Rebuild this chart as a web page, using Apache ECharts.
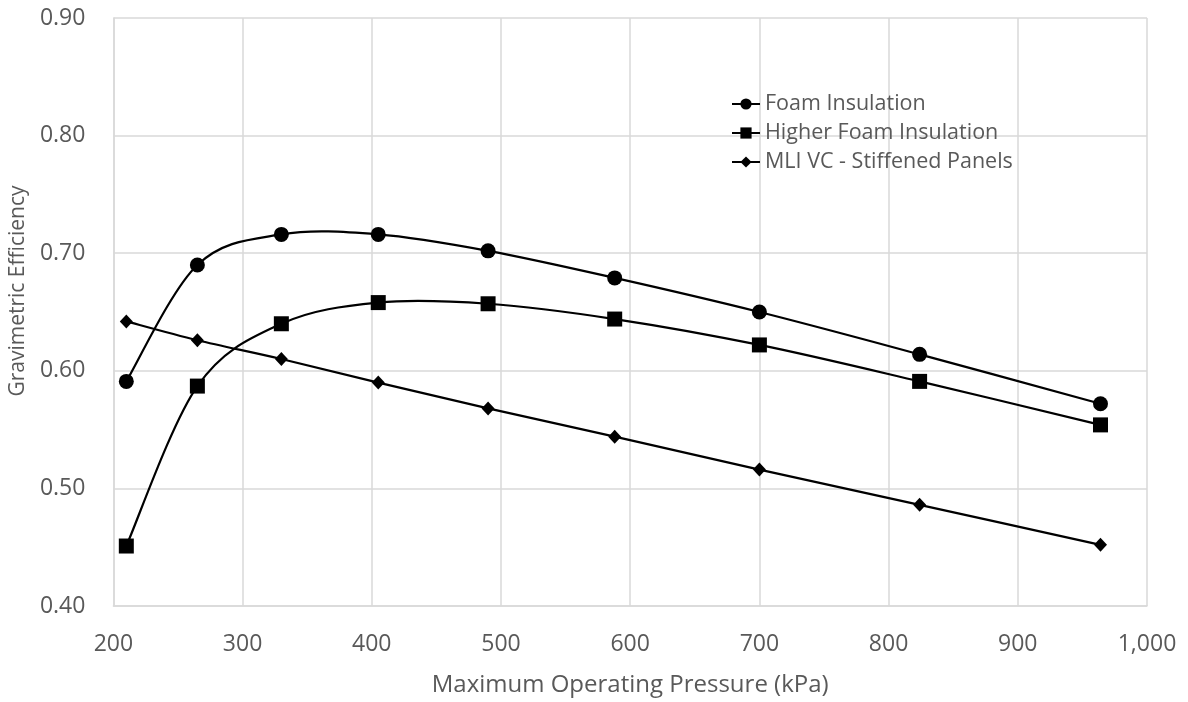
<!DOCTYPE html>
<html>
<head>
<meta charset="utf-8">
<script src="https://cdn.jsdelivr.net/npm/echarts@6/dist/echarts.min.js"></script>
<style>
html,body{margin:0;padding:0;background:#fff;}
#chart{width:1188px;height:702px;}
</style>
</head>
<body>
<div id="chart"></div>
<script>
var pressure = [210, 265, 330, 405, 490, 588, 700, 824, 964];
var foamInsulation = [0.591, 0.690, 0.716, 0.716, 0.702, 0.679, 0.650, 0.614, 0.572];
var higherFoamInsulation = [0.451, 0.587, 0.640, 0.658, 0.657, 0.644, 0.622, 0.591, 0.554];
var mliStiffened = [0.642, 0.626, 0.610, 0.590, 0.568, 0.544, 0.516, 0.486, 0.452];
var seriesNames = ['Foam Insulation', 'Higher Foam Insulation', 'MLI VC - Stiffened Panels'];
var seriesSymbols = ['circle', 'rect', 'diamond'];
var xAxisTitle = 'Maximum Operating Pressure (kPa)';
var yAxisTitle = 'Gravimetric Efficiency';

function pairs(xs, ys) { return xs.map(function (x, i) { return [x, ys[i]]; }); }

var FONT = '"Open Sans", "Noto Sans", sans-serif';
var TXT = '#595959';
var GRID = '#d9d9d9';

// Smoothed (Catmull-Rom style, like the spreadsheet's smoothed line) path drawn
// through the points after converting them with the chart's own axes.
function smoothRender(xs, ys) {
  return function (params, api) {
    if (params.dataIndex !== 0) return null;
    var p = xs.map(function (x, i) { return api.coord([x, ys[i]]); });
    var n = p.length;
    var d = 'M' + p[0][0] + ',' + p[0][1];
    for (var i = 0; i < n - 1; i++) {
      var p0 = p[Math.max(i - 1, 0)], p1 = p[i], p2 = p[i + 1], p3 = p[Math.min(i + 2, n - 1)];
      var c1x = p1[0] + (p2[0] - p0[0]) / 6, c1y = p1[1] + (p2[1] - p0[1]) / 6;
      var c2x = p2[0] - (p3[0] - p1[0]) / 6, c2y = p2[1] - (p3[1] - p1[1]) / 6;
      d += ' C' + c1x + ',' + c1y + ' ' + c2x + ',' + c2y + ' ' + p2[0] + ',' + p2[1];
    }
    return {
      type: 'path',
      shape: { pathData: d },
      style: { fill: 'none', stroke: '#000', lineWidth: 2.2 }
    };
  };
}

var allY = [foamInsulation, higherFoamInsulation, mliStiffened];
var series = [];
allY.forEach(function (ys, k) {
  series.push({
    type: 'custom',
    coordinateSystem: 'cartesian2d',
    renderItem: smoothRender(pressure, ys),
    data: pairs(pressure, ys),
    encode: { x: 0, y: 1 },
    clip: false,
    silent: true,
    z: 1
  });
});
allY.forEach(function (ys, k) {
  series.push({
    name: seriesNames[k],
    type: 'line',
    data: pairs(pressure, ys),
    symbol: seriesSymbols[k],
    symbolSize: k === 2 ? [13, 14] : 15,
    showSymbol: true,
    itemStyle: { color: '#000' },
    lineStyle: { color: '#000', width: 2, opacity: 0 },
    z: 3
  });
});

var chart = echarts.init(document.getElementById('chart'));
var option = {
  animation: false,
  backgroundColor: '#fff',
  grid: { left: 111, right: 41, top: 18, bottom: 94 },
  legend: {
    orient: 'vertical',
    left: 726,
    top: 88,
    itemWidth: 28,
    itemHeight: 14,
    itemGap: 7,
    textStyle: { fontFamily: FONT, fontSize: 21.5, color: TXT },
    data: seriesNames.map(function (nm) {
      return { name: nm, lineStyle: { color: '#000', width: 2, opacity: 1 } };
    })
  },
  xAxis: {
    type: 'value',
    min: 200, max: 1000, interval: 100,
    name: xAxisTitle,
    nameLocation: 'middle',
    nameGap: 67,
    nameTextStyle: { fontFamily: FONT, fontSize: 24, color: TXT },
    axisLine: { show: true, lineStyle: { color: GRID, width: 1.5 } },
    axisTick: { show: false },
    splitLine: { show: true, lineStyle: { color: GRID, width: 1.5 } },
    axisLabel: {
      fontFamily: FONT, fontSize: 23, color: TXT, margin: 27,
      formatter: function (v) { return v.toLocaleString('en-US'); }
    }
  },
  yAxis: {
    type: 'value',
    min: 0.4, max: 0.9, interval: 0.1,
    name: yAxisTitle,
    nameLocation: 'middle',
    nameGap: 74,
    nameTextStyle: { fontFamily: FONT, fontSize: 21, color: TXT, padding: [0, 0, 0, 42] },
    axisLine: { show: true, lineStyle: { color: GRID, width: 1.5 } },
    axisTick: { show: false },
    splitLine: { show: true, lineStyle: { color: GRID, width: 1.5 } },
    axisLabel: {
      fontFamily: FONT, fontSize: 23, color: TXT, margin: 28,
      formatter: function (v) { return v.toFixed(2); }
    }
  },
  series: series
};
chart.setOption(option);
</script>
</body>
</html>
